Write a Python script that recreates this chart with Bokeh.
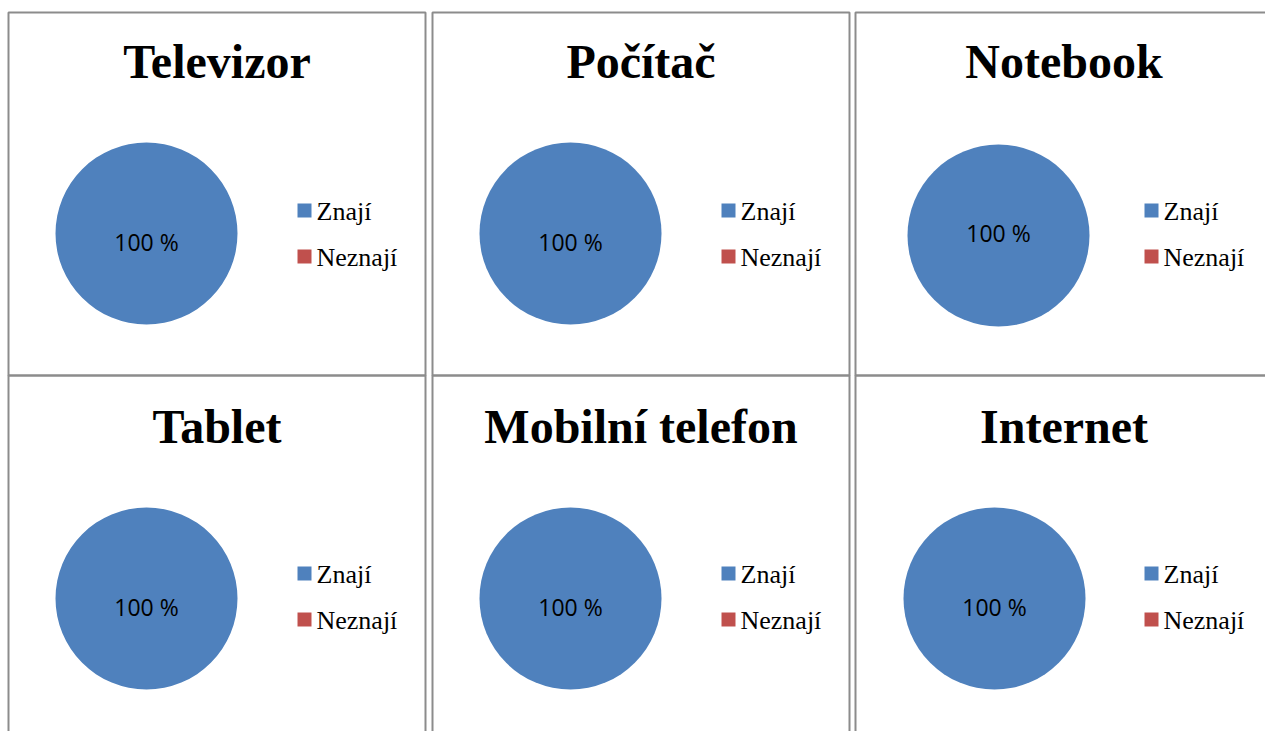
from math import pi
from bokeh.plotting import figure
from bokeh.models import Range1d, ColumnDataSource
from bokeh.core.properties import value
from bokeh.embed import file_html
from bokeh.resources import INLINE

# ---- data ----
categories = ["Televizor", "Počítač", "Notebook", "Tablet", "Mobilní telefon", "Internet"]
series_names = ["Znají", "Neznají"]
znaji = [100, 100, 100, 100, 100, 100]
neznaji = [0, 0, 0, 0, 0, 0]
series_colors = ["#4F81BD", "#C0504D"]

# ---- layout (page pixel coordinates) ----
W, H = 1265, 731
panel_left = [8, 432, 855, 8, 432, 855]
panel_top = [12, 12, 12, 375, 375, 375]
panel_w, panel_h = 417, 363
pie_cx = [146, 570, 998, 146, 570, 994]
pie_cy = [233, 233, 235, 598, 598, 598]
pie_r = 91
label_base = [241, 241, 232, 606, 606, 606]
title_base = [61, 61, 61, 426, 426, 426]
legend_dx = 289  # offset of legend square from panel left
legend_sq_top = [203, 249]  # relative to row 1
legend_text_base = [211, 257]

p = figure(width=W, height=H, x_range=Range1d(0, W), y_range=Range1d(H, 0),
           output_backend="svg", toolbar_location=None, min_border=0,
           outline_line_color=None, background_fill_color="white")
p.xaxis.visible = False
p.yaxis.visible = False
p.grid.visible = False

# panel borders
p.quad(left=panel_left, right=[l + panel_w for l in panel_left],
       top=panel_top, bottom=[t + panel_h for t in panel_top],
       fill_color=None, line_color="#8C8C8C", line_width=2)

# pies
wx, wy, ws, we, wc = [], [], [], [], []
cx, cy, cc = [], [], []
lx, ly, lt = [], [], []
for i, cat in enumerate(categories):
    vals = [znaji[i], neznaji[i]]
    total = float(sum(vals))
    cum = 0.0
    for j, v in enumerate(vals):
        if v <= 0:
            continue
        if v >= total:
            cx.append(pie_cx[i]); cy.append(pie_cy[i]); cc.append(series_colors[j])
        else:
            start = pi / 2 - 2 * pi * (cum + v) / total
            end = pi / 2 - 2 * pi * cum / total
            wx.append(pie_cx[i]); wy.append(pie_cy[i])
            ws.append(start); we.append(end); wc.append(series_colors[j])
        lx.append(pie_cx[i]); ly.append(label_base[i]); lt.append(f"{v} %")
        cum += v

if wx:
    src = ColumnDataSource(dict(x=wx, y=wy, s=ws, e=we, c=wc))
    p.wedge(x="x", y="y", radius=pie_r, start_angle="s", end_angle="e",
            fill_color="c", line_color=None, source=src)
if cx:
    p.circle(x=cx, y=cy, radius=pie_r, fill_color=cc, line_color=None)

p.text(x=lx, y=ly, text=lt, text_font=value("Open Sans"), text_font_size="23px",
       text_color="black", text_align="center", text_baseline="middle")

# titles
p.text(x=[l + panel_w / 2 for l in panel_left], y=title_base, text=categories,
       text_font=value("Liberation Serif"), text_font_style="bold",
       text_font_size="48px", text_color="black", text_align="center",
       text_baseline="middle")

# legends
sq_l, sq_t, sq_c = [], [], []
tx, ty, tt = [], [], []
for i in range(len(categories)):
    row_off = panel_top[i] - 12
    for j, name in enumerate(series_names):
        sq_l.append(panel_left[i] + legend_dx)
        sq_t.append(legend_sq_top[j] + row_off)
        sq_c.append(series_colors[j])
        tx.append(panel_left[i] + legend_dx + 19)
        ty.append(legend_text_base[j] + row_off)
        tt.append(name)

p.quad(left=sq_l, right=[v + 14 for v in sq_l], top=sq_t, bottom=[v + 14 for v in sq_t],
       fill_color=sq_c, line_color=None)
p.text(x=tx, y=ty, text=tt, text_font=value("Liberation Serif"), text_font_size="26px",
       text_color="black", text_align="left", text_baseline="middle")

open("out.html", "w").write(file_html(p, INLINE))
